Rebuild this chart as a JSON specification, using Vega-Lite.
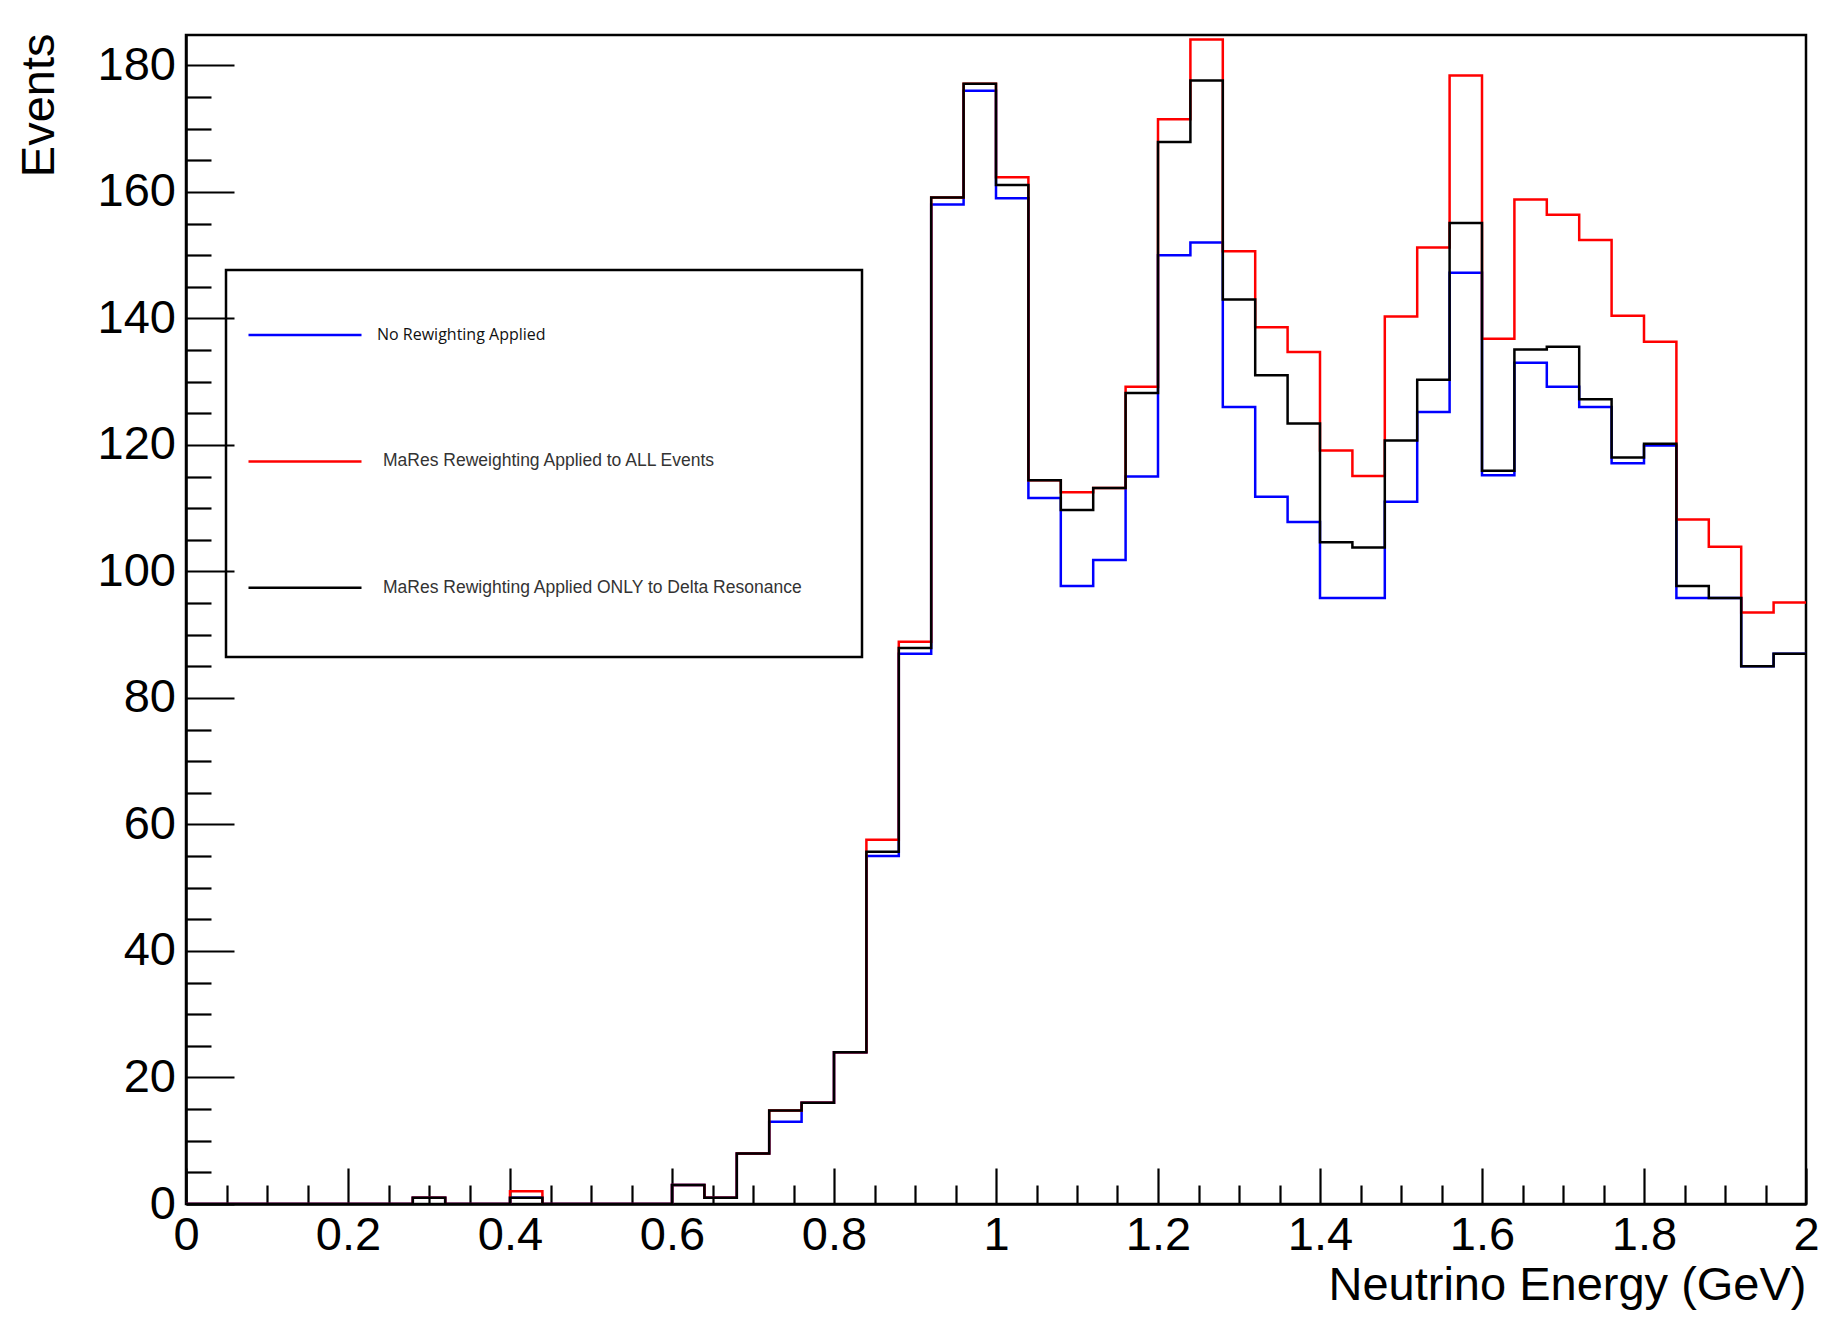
{
  "$schema": "https://vega.github.io/schema/vega-lite/v6.json",
  "width": 1620,
  "height": 1169,
  "autosize": {"type": "none"},
  "padding": {"left": 186, "top": 35, "right": 28, "bottom": 117},
  "background": "white",
  "config": {
    "font": "Liberation Sans",
    "view": {"stroke": "black", "strokeWidth": 2.5},
    "axis": {"grid": false}
  },
  "data": {
    "values": [
      {"series": "No Rewighting Applied", "energy": 0, "events": 0},
      {"series": "No Rewighting Applied", "energy": 0.04, "events": 0},
      {"series": "No Rewighting Applied", "energy": 0.08, "events": 0},
      {"series": "No Rewighting Applied", "energy": 0.12, "events": 0},
      {"series": "No Rewighting Applied", "energy": 0.16, "events": 0},
      {"series": "No Rewighting Applied", "energy": 0.2, "events": 0},
      {"series": "No Rewighting Applied", "energy": 0.24, "events": 0},
      {"series": "No Rewighting Applied", "energy": 0.28, "events": 1},
      {"series": "No Rewighting Applied", "energy": 0.32, "events": 0},
      {"series": "No Rewighting Applied", "energy": 0.36, "events": 0},
      {"series": "No Rewighting Applied", "energy": 0.4, "events": 1},
      {"series": "No Rewighting Applied", "energy": 0.44, "events": 0},
      {"series": "No Rewighting Applied", "energy": 0.48, "events": 0},
      {"series": "No Rewighting Applied", "energy": 0.52, "events": 0},
      {"series": "No Rewighting Applied", "energy": 0.56, "events": 0},
      {"series": "No Rewighting Applied", "energy": 0.6, "events": 3},
      {"series": "No Rewighting Applied", "energy": 0.64, "events": 1},
      {"series": "No Rewighting Applied", "energy": 0.68, "events": 8},
      {"series": "No Rewighting Applied", "energy": 0.72, "events": 13},
      {"series": "No Rewighting Applied", "energy": 0.76, "events": 16},
      {"series": "No Rewighting Applied", "energy": 0.8, "events": 24},
      {"series": "No Rewighting Applied", "energy": 0.84, "events": 55},
      {"series": "No Rewighting Applied", "energy": 0.88, "events": 87},
      {"series": "No Rewighting Applied", "energy": 0.92, "events": 158},
      {"series": "No Rewighting Applied", "energy": 0.96, "events": 176},
      {"series": "No Rewighting Applied", "energy": 1, "events": 159},
      {"series": "No Rewighting Applied", "energy": 1.04, "events": 111.6},
      {"series": "No Rewighting Applied", "energy": 1.08, "events": 97.7},
      {"series": "No Rewighting Applied", "energy": 1.12, "events": 101.8},
      {"series": "No Rewighting Applied", "energy": 1.16, "events": 115},
      {"series": "No Rewighting Applied", "energy": 1.2, "events": 150},
      {"series": "No Rewighting Applied", "energy": 1.24, "events": 152},
      {"series": "No Rewighting Applied", "energy": 1.28, "events": 126},
      {"series": "No Rewighting Applied", "energy": 1.32, "events": 111.8},
      {"series": "No Rewighting Applied", "energy": 1.36, "events": 107.8},
      {"series": "No Rewighting Applied", "energy": 1.4, "events": 95.8},
      {"series": "No Rewighting Applied", "energy": 1.44, "events": 95.8},
      {"series": "No Rewighting Applied", "energy": 1.48, "events": 111},
      {"series": "No Rewighting Applied", "energy": 1.52, "events": 125.2},
      {"series": "No Rewighting Applied", "energy": 1.56, "events": 147.2},
      {"series": "No Rewighting Applied", "energy": 1.6, "events": 115.2},
      {"series": "No Rewighting Applied", "energy": 1.64, "events": 133},
      {"series": "No Rewighting Applied", "energy": 1.68, "events": 129.2},
      {"series": "No Rewighting Applied", "energy": 1.72, "events": 126},
      {"series": "No Rewighting Applied", "energy": 1.76, "events": 117.1},
      {"series": "No Rewighting Applied", "energy": 1.8, "events": 119.9},
      {"series": "No Rewighting Applied", "energy": 1.84, "events": 95.8},
      {"series": "No Rewighting Applied", "energy": 1.88, "events": 95.8},
      {"series": "No Rewighting Applied", "energy": 1.92, "events": 85},
      {"series": "No Rewighting Applied", "energy": 1.96, "events": 87},
      {"series": "No Rewighting Applied", "energy": 2, "events": 87},
      {"series": "MaRes Reweighting Applied to ALL Events", "energy": 0, "events": 0},
      {"series": "MaRes Reweighting Applied to ALL Events", "energy": 0.04, "events": 0},
      {"series": "MaRes Reweighting Applied to ALL Events", "energy": 0.08, "events": 0},
      {"series": "MaRes Reweighting Applied to ALL Events", "energy": 0.12, "events": 0},
      {"series": "MaRes Reweighting Applied to ALL Events", "energy": 0.16, "events": 0},
      {"series": "MaRes Reweighting Applied to ALL Events", "energy": 0.2, "events": 0},
      {"series": "MaRes Reweighting Applied to ALL Events", "energy": 0.24, "events": 0},
      {"series": "MaRes Reweighting Applied to ALL Events", "energy": 0.28, "events": 1},
      {"series": "MaRes Reweighting Applied to ALL Events", "energy": 0.32, "events": 0},
      {"series": "MaRes Reweighting Applied to ALL Events", "energy": 0.36, "events": 0},
      {"series": "MaRes Reweighting Applied to ALL Events", "energy": 0.4, "events": 2},
      {"series": "MaRes Reweighting Applied to ALL Events", "energy": 0.44, "events": 0},
      {"series": "MaRes Reweighting Applied to ALL Events", "energy": 0.48, "events": 0},
      {"series": "MaRes Reweighting Applied to ALL Events", "energy": 0.52, "events": 0},
      {"series": "MaRes Reweighting Applied to ALL Events", "energy": 0.56, "events": 0},
      {"series": "MaRes Reweighting Applied to ALL Events", "energy": 0.6, "events": 3},
      {"series": "MaRes Reweighting Applied to ALL Events", "energy": 0.64, "events": 1},
      {"series": "MaRes Reweighting Applied to ALL Events", "energy": 0.68, "events": 8},
      {"series": "MaRes Reweighting Applied to ALL Events", "energy": 0.72, "events": 14.8},
      {"series": "MaRes Reweighting Applied to ALL Events", "energy": 0.76, "events": 16},
      {"series": "MaRes Reweighting Applied to ALL Events", "energy": 0.8, "events": 24},
      {"series": "MaRes Reweighting Applied to ALL Events", "energy": 0.84, "events": 57.6},
      {"series": "MaRes Reweighting Applied to ALL Events", "energy": 0.88, "events": 88.9},
      {"series": "MaRes Reweighting Applied to ALL Events", "energy": 0.92, "events": 159.1},
      {"series": "MaRes Reweighting Applied to ALL Events", "energy": 0.96, "events": 177.1},
      {"series": "MaRes Reweighting Applied to ALL Events", "energy": 1, "events": 162.3},
      {"series": "MaRes Reweighting Applied to ALL Events", "energy": 1.04, "events": 114.4},
      {"series": "MaRes Reweighting Applied to ALL Events", "energy": 1.08, "events": 112.5},
      {"series": "MaRes Reweighting Applied to ALL Events", "energy": 1.12, "events": 113.2},
      {"series": "MaRes Reweighting Applied to ALL Events", "energy": 1.16, "events": 129.2},
      {"series": "MaRes Reweighting Applied to ALL Events", "energy": 1.2, "events": 171.5},
      {"series": "MaRes Reweighting Applied to ALL Events", "energy": 1.24, "events": 184.1},
      {"series": "MaRes Reweighting Applied to ALL Events", "energy": 1.28, "events": 150.6},
      {"series": "MaRes Reweighting Applied to ALL Events", "energy": 1.32, "events": 138.6},
      {"series": "MaRes Reweighting Applied to ALL Events", "energy": 1.36, "events": 134.7},
      {"series": "MaRes Reweighting Applied to ALL Events", "energy": 1.4, "events": 119.1},
      {"series": "MaRes Reweighting Applied to ALL Events", "energy": 1.44, "events": 115.1},
      {"series": "MaRes Reweighting Applied to ALL Events", "energy": 1.48, "events": 140.3},
      {"series": "MaRes Reweighting Applied to ALL Events", "energy": 1.52, "events": 151.2},
      {"series": "MaRes Reweighting Applied to ALL Events", "energy": 1.56, "events": 178.4},
      {"series": "MaRes Reweighting Applied to ALL Events", "energy": 1.6, "events": 136.8},
      {"series": "MaRes Reweighting Applied to ALL Events", "energy": 1.64, "events": 158.8},
      {"series": "MaRes Reweighting Applied to ALL Events", "energy": 1.68, "events": 156.4},
      {"series": "MaRes Reweighting Applied to ALL Events", "energy": 1.72, "events": 152.4},
      {"series": "MaRes Reweighting Applied to ALL Events", "energy": 1.76, "events": 140.4},
      {"series": "MaRes Reweighting Applied to ALL Events", "energy": 1.8, "events": 136.3},
      {"series": "MaRes Reweighting Applied to ALL Events", "energy": 1.84, "events": 108.2},
      {"series": "MaRes Reweighting Applied to ALL Events", "energy": 1.88, "events": 103.9},
      {"series": "MaRes Reweighting Applied to ALL Events", "energy": 1.92, "events": 93.5},
      {"series": "MaRes Reweighting Applied to ALL Events", "energy": 1.96, "events": 95.1},
      {"series": "MaRes Reweighting Applied to ALL Events", "energy": 2, "events": 95.1},
      {"series": "MaRes Rewighting Applied ONLY to Delta Resonance", "energy": 0, "events": 0},
      {"series": "MaRes Rewighting Applied ONLY to Delta Resonance", "energy": 0.04, "events": 0},
      {"series": "MaRes Rewighting Applied ONLY to Delta Resonance", "energy": 0.08, "events": 0},
      {"series": "MaRes Rewighting Applied ONLY to Delta Resonance", "energy": 0.12, "events": 0},
      {"series": "MaRes Rewighting Applied ONLY to Delta Resonance", "energy": 0.16, "events": 0},
      {"series": "MaRes Rewighting Applied ONLY to Delta Resonance", "energy": 0.2, "events": 0},
      {"series": "MaRes Rewighting Applied ONLY to Delta Resonance", "energy": 0.24, "events": 0},
      {"series": "MaRes Rewighting Applied ONLY to Delta Resonance", "energy": 0.28, "events": 1},
      {"series": "MaRes Rewighting Applied ONLY to Delta Resonance", "energy": 0.32, "events": 0},
      {"series": "MaRes Rewighting Applied ONLY to Delta Resonance", "energy": 0.36, "events": 0},
      {"series": "MaRes Rewighting Applied ONLY to Delta Resonance", "energy": 0.4, "events": 1},
      {"series": "MaRes Rewighting Applied ONLY to Delta Resonance", "energy": 0.44, "events": 0},
      {"series": "MaRes Rewighting Applied ONLY to Delta Resonance", "energy": 0.48, "events": 0},
      {"series": "MaRes Rewighting Applied ONLY to Delta Resonance", "energy": 0.52, "events": 0},
      {"series": "MaRes Rewighting Applied ONLY to Delta Resonance", "energy": 0.56, "events": 0},
      {"series": "MaRes Rewighting Applied ONLY to Delta Resonance", "energy": 0.6, "events": 3},
      {"series": "MaRes Rewighting Applied ONLY to Delta Resonance", "energy": 0.64, "events": 1},
      {"series": "MaRes Rewighting Applied ONLY to Delta Resonance", "energy": 0.68, "events": 8},
      {"series": "MaRes Rewighting Applied ONLY to Delta Resonance", "energy": 0.72, "events": 14.8},
      {"series": "MaRes Rewighting Applied ONLY to Delta Resonance", "energy": 0.76, "events": 16},
      {"series": "MaRes Rewighting Applied ONLY to Delta Resonance", "energy": 0.8, "events": 24},
      {"series": "MaRes Rewighting Applied ONLY to Delta Resonance", "energy": 0.84, "events": 55.7},
      {"series": "MaRes Rewighting Applied ONLY to Delta Resonance", "energy": 0.88, "events": 87.9},
      {"series": "MaRes Rewighting Applied ONLY to Delta Resonance", "energy": 0.92, "events": 159.1},
      {"series": "MaRes Rewighting Applied ONLY to Delta Resonance", "energy": 0.96, "events": 177.1},
      {"series": "MaRes Rewighting Applied ONLY to Delta Resonance", "energy": 1, "events": 161.1},
      {"series": "MaRes Rewighting Applied ONLY to Delta Resonance", "energy": 1.04, "events": 114.4},
      {"series": "MaRes Rewighting Applied ONLY to Delta Resonance", "energy": 1.08, "events": 109.7},
      {"series": "MaRes Rewighting Applied ONLY to Delta Resonance", "energy": 1.12, "events": 113.2},
      {"series": "MaRes Rewighting Applied ONLY to Delta Resonance", "energy": 1.16, "events": 128.2},
      {"series": "MaRes Rewighting Applied ONLY to Delta Resonance", "energy": 1.2, "events": 167.9},
      {"series": "MaRes Rewighting Applied ONLY to Delta Resonance", "energy": 1.24, "events": 177.6},
      {"series": "MaRes Rewighting Applied ONLY to Delta Resonance", "energy": 1.28, "events": 143},
      {"series": "MaRes Rewighting Applied ONLY to Delta Resonance", "energy": 1.32, "events": 131},
      {"series": "MaRes Rewighting Applied ONLY to Delta Resonance", "energy": 1.36, "events": 123.4},
      {"series": "MaRes Rewighting Applied ONLY to Delta Resonance", "energy": 1.4, "events": 104.6},
      {"series": "MaRes Rewighting Applied ONLY to Delta Resonance", "energy": 1.44, "events": 103.8},
      {"series": "MaRes Rewighting Applied ONLY to Delta Resonance", "energy": 1.48, "events": 120.7},
      {"series": "MaRes Rewighting Applied ONLY to Delta Resonance", "energy": 1.52, "events": 130.3},
      {"series": "MaRes Rewighting Applied ONLY to Delta Resonance", "energy": 1.56, "events": 155.1},
      {"series": "MaRes Rewighting Applied ONLY to Delta Resonance", "energy": 1.6, "events": 115.9},
      {"series": "MaRes Rewighting Applied ONLY to Delta Resonance", "energy": 1.64, "events": 135.1},
      {"series": "MaRes Rewighting Applied ONLY to Delta Resonance", "energy": 1.68, "events": 135.5},
      {"series": "MaRes Rewighting Applied ONLY to Delta Resonance", "energy": 1.72, "events": 127.2},
      {"series": "MaRes Rewighting Applied ONLY to Delta Resonance", "energy": 1.76, "events": 118},
      {"series": "MaRes Rewighting Applied ONLY to Delta Resonance", "energy": 1.8, "events": 120.2},
      {"series": "MaRes Rewighting Applied ONLY to Delta Resonance", "energy": 1.84, "events": 97.7},
      {"series": "MaRes Rewighting Applied ONLY to Delta Resonance", "energy": 1.88, "events": 95.8},
      {"series": "MaRes Rewighting Applied ONLY to Delta Resonance", "energy": 1.92, "events": 85},
      {"series": "MaRes Rewighting Applied ONLY to Delta Resonance", "energy": 1.96, "events": 87},
      {"series": "MaRes Rewighting Applied ONLY to Delta Resonance", "energy": 2, "events": 87}
    ]
  },
  "mark": {"type": "line", "interpolate": "step-after", "strokeWidth": 2.5, "clip": true},
  "encoding": {
    "x": {
      "field": "energy",
      "type": "quantitative",
      "scale": {"domain": [0, 2], "nice": false, "zero": false},
      "axis": {
        "title": "Neutrino Energy (GeV)",
        "titleFont": "Liberation Sans",
        "titleFontSize": 47,
        "titleFontWeight": "normal",
        "titleColor": "black",
        "titleAlign": "right",
        "titleBaseline": "alphabetic",
        "titleX": 1620,
        "titleY": 95,
        "values": [0, 0.05, 0.1, 0.15, 0.2, 0.25, 0.3, 0.35, 0.4, 0.45, 0.5, 0.55, 0.6, 0.65, 0.7, 0.75, 0.8, 0.85, 0.9, 0.95, 1, 1.05, 1.1, 1.15, 1.2, 1.25, 1.3, 1.35, 1.4, 1.45, 1.5, 1.55, 1.6, 1.65, 1.7, 1.75, 1.8, 1.85, 1.9, 1.95, 2],
        "labelExpr": "round(datum.value * 100) % 20 === 0 ? format(datum.value, '~g') : ''",
        "labelFont": "Liberation Sans",
        "labelFontSize": 47,
        "labelColor": "black",
        "labelFlush": false,
        "labelOverlap": false,
        "labelPadding": 44,
        "tickSize": {"condition": {"test": "round(datum.value * 100) % 20 === 0", "value": -36}, "value": -19},
        "tickColor": "black",
        "tickWidth": 2.2,
        "domainColor": "black",
        "domainWidth": 2.5
      }
    },
    "y": {
      "field": "events",
      "type": "quantitative",
      "scale": {"domain": [0, 184.8], "nice": false},
      "axis": {
        "title": "Events",
        "titleFont": "Liberation Sans",
        "titleFontSize": 47,
        "titleFontWeight": "normal",
        "titleColor": "black",
        "titleAngle": -90,
        "titleAlign": "right",
        "titleBaseline": "alphabetic",
        "titleX": -133,
        "titleY": -2,
        "values": [0, 5, 10, 15, 20, 25, 30, 35, 40, 45, 50, 55, 60, 65, 70, 75, 80, 85, 90, 95, 100, 105, 110, 115, 120, 125, 130, 135, 140, 145, 150, 155, 160, 165, 170, 175, 180],
        "labelExpr": "datum.value % 20 === 0 ? datum.label : ''",
        "labelFont": "Liberation Sans",
        "labelFontSize": 47,
        "labelColor": "black",
        "labelFlush": false,
        "labelOverlap": false,
        "labelPadding": 58.5,
        "tickSize": {"condition": {"test": "datum.value % 20 === 0", "value": -48}, "value": -25},
        "tickColor": "black",
        "tickWidth": 2.2,
        "domainColor": "black",
        "domainWidth": 2.5
      }
    },
    "color": {
      "field": "series",
      "type": "nominal",
      "scale": {
        "domain": ["No Rewighting Applied", "MaRes Reweighting Applied to ALL Events", "MaRes Rewighting Applied ONLY to Delta Resonance"],
        "range": ["#0000ff", "#ff0000", "#000000"]
      },
      "legend": {
        "title": null,
        "orient": "none",
        "legendX": 40,
        "legendY": 235,
        "symbolType": "M-1,-1M-1,0H1M-1,1",
        "symbolSize": 12769,
        "symbolStrokeWidth": 2.5,
        "symbolOffset": 14,
        "padding": 7,
        "rowPadding": 2.4,
        "labelOffset": 14,
        "strokeColor": "black",
        "labelFont": "Liberation Sans",
        "labelFontSize": 17.5,
        "labelColor": "#333333",
        "labelLimit": 1000,
        "encode": {
          "labels": {"update": {
            "text": {"signal": "datum.label + '\u2800\u2800\u2800\u2800'"},
            "font": {"signal": "datum.value === 'No Rewighting Applied' ? 'Open Sans' : 'Liberation Sans'"},
            "fontSize": {"signal": "datum.value === 'No Rewighting Applied' ? 16 : 17.5"},
            "fill": {"signal": "datum.value === 'No Rewighting Applied' ? '#111111' : '#333333'"},
            "dx": {"signal": "datum.value === 'No Rewighting Applied' ? 0 : 6"}
          }},
          "legend": {"update": {"strokeWidth": {"value": 2.5}}}
        }
      }
    }
  }
}
